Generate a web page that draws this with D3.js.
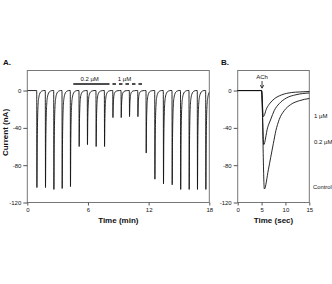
<!DOCTYPE html>
<html>
<head>
<meta charset="utf-8">
<script src="https://cdn.jsdelivr.net/npm/d3@7"></script>
<style>
  html, body { margin: 0; padding: 0; background: #fff; }
  text { font-family: "Liberation Sans", Arial, sans-serif; fill: #111; }
</style>
</head>
<body>
<div id="chart"></div>
<script>
// panel A: repeated ACh pulses (time in min, peak current in nA)
const pulseTimes = [0.93, 1.78, 2.61, 3.43, 4.25, 5.11, 5.93, 6.79, 7.62, 8.45, 9.27,
                    10.09, 10.92, 11.74, 12.60, 13.45, 14.31, 15.15, 15.99, 16.81, 17.64];
const pulsePeaks = [-104, -104, -106, -105, -103, -60, -58, -60, -60, -29, -29,
                    -28, -28, -67, -95, -100, -101, -106, -106, -106, -106];
// recovery shape after each peak (offset in min, fraction of peak)
const recoveryOffsets = [0, 0.03, 0.07, 0.12, 0.19, 0.27, 0.37, 0.5, 0.65];
const recoveryFractions = [1, 0.55, 0.28, 0.14, 0.07, 0.035, 0.015, 0.005, 0];
// drug application bars
const barLabels = ["0.2 µM", "1 µM"];
const barStarts = [4.55, 7.78];
const barEnds = [7.78, 11.44];
const barDashed = [false, true];

// panel B: single responses (time in sec, current in nA)
const bNames = ["1 µM", "0.2 µM", "Control"];
const bTimes = [
  [0, 5.0, 5.37, 6.08, 6.77, 7.64, 9.22, 11.32, 13.0, 15],
  [0, 5.0, 5.45, 6.25, 6.95, 7.65, 8.7, 10.2, 12.2, 15],
  [0, 5.0, 5.58, 6.42, 6.9, 7.46, 8.0, 8.7, 9.75, 11.1, 12.9, 15]
];
const bCurrents = [
  [0, 0, -27.9, -18.9, -13.5, -9, -4.6, -2.1, -1.5, -1.0],
  [0, 0, -58, -40, -30.5, -21.5, -14, -8, -4.5, -2.6],
  [0, 0, -105.5, -85, -72, -57, -43, -31, -21.5, -15, -10.9, -8.5]
];

const yTicks = [0, -40, -80, -120];
const xTicksA = [0, 6, 12, 18];
const xTicksB = [0, 5, 10, 15];

const W = 332, H = 284;
const svg = d3.select("#chart").append("svg")
    .attr("width", W).attr("height", H);

const yScale = d3.scaleLinear().domain([-120, 21.5]).range([202.5, 70.5]);
const xA = d3.scaleLinear().domain([0, 18]).range([27.3, 209.3]);
const xB = d3.scaleLinear().domain([0, 15]).range([237.7, 309.3]);

function drawFrame(x) {
    const [x0, x1] = x.range();
    const [y0, y1] = yScale.range();
    svg.append("rect")
        .attr("x", x0).attr("y", y1)
        .attr("width", x1 - x0).attr("height", y0 - y1)
        .attr("fill", "none").attr("stroke", "#777").attr("stroke-width", 1);

    const gy = svg.append("g")
        .attr("transform", `translate(${x0},0)`)
        .call(d3.axisLeft(yScale).tickValues(yTicks).tickSize(4).tickPadding(2)
            .tickFormat(d => String(d)));
    gy.select(".domain").remove();
    gy.selectAll("line").attr("stroke", "#555");
    gy.selectAll("text").attr("font-size", "6px").attr("fill", "#222");
}

function drawXAxis(x, ticks) {
    const gx = svg.append("g")
        .attr("transform", `translate(0,${yScale(-120)})`)
        .call(d3.axisBottom(x).tickValues(ticks).tickSize(3).tickPadding(2)
            .tickFormat(d => String(d)));
    gx.select(".domain").remove();
    gx.selectAll("line").attr("stroke", "#555");
    gx.selectAll("text").attr("font-size", "6px").attr("fill", "#222");
}

// ---------- panel A ----------
drawFrame(xA);
drawXAxis(xA, xTicksA);

svg.append("clipPath").attr("id", "clipA")
    .append("rect").attr("x", xA(0)).attr("y", 60)
    .attr("width", xA(18) - xA(0)).attr("height", 150);

const traceA = [[0, 0]];
pulseTimes.forEach((t, i) => {
    traceA.push([t, 0]);
    recoveryOffsets.forEach((o, j) => {
        traceA.push([t + 0.02 + o, pulsePeaks[i] * recoveryFractions[j]]);
    });
});
traceA.push([18.5, 0]);

const lineA = d3.line()
    .x(d => xA(d[0]))
    .y(d => yScale(d[1]))
    .curve(d3.curveMonotoneX);

svg.append("path")
    .attr("clip-path", "url(#clipA)")
    .attr("d", lineA(traceA))
    .attr("fill", "none")
    .attr("stroke", "#111")
    .attr("stroke-width", 0.9);

// drug bars
barLabels.forEach((lab, i) => {
    svg.append("line")
        .attr("x1", xA(barStarts[i])).attr("x2", xA(barEnds[i]))
        .attr("y1", yScale(7)).attr("y2", yScale(7))
        .attr("stroke", "#111").attr("stroke-width", 1.4)
        .attr("stroke-dasharray", barDashed[i] ? "3.5,3" : null);
    svg.append("text")
        .attr("x", xA((barStarts[i] + barEnds[i]) / 2))
        .attr("y", yScale(7) - 3)
        .attr("text-anchor", "middle")
        .attr("font-size", "6px")
        .text(lab);
});

svg.append("text")
    .attr("x", 3).attr("y", 65)
    .attr("font-size", "8px").attr("font-weight", "bold")
    .text("A.");

svg.append("text")
    .attr("transform", `translate(8,${(yScale.range()[0] + yScale.range()[1]) / 2 - 4}) rotate(-90)`)
    .attr("text-anchor", "middle")
    .attr("font-size", "8px").attr("font-weight", "bold")
    .text("Current (nA)");

svg.append("text")
    .attr("x", (xA(0) + xA(18)) / 2).attr("y", 223)
    .attr("text-anchor", "middle")
    .attr("font-size", "8px").attr("font-weight", "bold")
    .text("Time (min)");

// ---------- panel B ----------
drawFrame(xB);
drawXAxis(xB, xTicksB);

const lineB = d3.line()
    .x(d => xB(d[0]))
    .y(d => yScale(d[1]))
    .curve(d3.curveMonotoneX);

bNames.forEach((name, i) => {
    const pts = bTimes[i].map((t, j) => [t, bCurrents[i][j]]);
    svg.append("path")
        .attr("d", lineB(pts))
        .attr("fill", "none")
        .attr("stroke", "#111")
        .attr("stroke-width", 0.9);
});

svg.append("text").attr("x", 314).attr("y", 117.7).attr("font-size", "6px").text(bNames[0]);
svg.append("text").attr("x", 314).attr("y", 144.3).attr("font-size", "6px").text(bNames[1]);
svg.append("text").attr("x", 313).attr("y", 189.3).attr("font-size", "5.8px").text(bNames[2]);

// ACh arrow
const achX = xB(5.1);
svg.append("text")
    .attr("x", achX).attr("y", 79.3)
    .attr("text-anchor", "middle")
    .attr("font-size", "6px")
    .text("ACh");
svg.append("line")
    .attr("x1", achX).attr("x2", achX)
    .attr("y1", 81).attr("y2", 88)
    .attr("stroke", "#111").attr("stroke-width", 0.8);
svg.append("path")
    .attr("d", `M${achX - 1.8},85 L${achX},88.2 L${achX + 1.8},85`)
    .attr("fill", "none").attr("stroke", "#111").attr("stroke-width", 0.8);

svg.append("text")
    .attr("x", 221).attr("y", 65)
    .attr("font-size", "8px").attr("font-weight", "bold")
    .text("B.");

svg.append("text")
    .attr("x", (xB(0) + xB(15)) / 2).attr("y", 223)
    .attr("text-anchor", "middle")
    .attr("font-size", "8px").attr("font-weight", "bold")
    .text("Time (sec)");
</script>
</body>
</html>
